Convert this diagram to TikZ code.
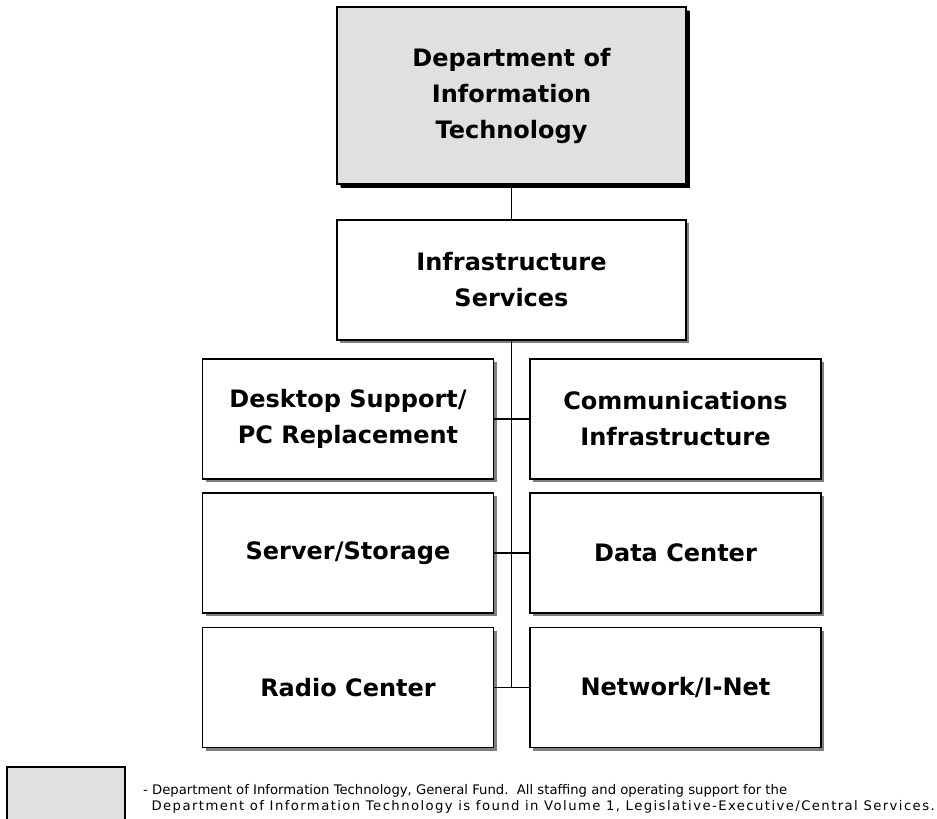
\documentclass[tikz,border=0pt]{standalone}
\usepackage{fontspec}
\setmainfont{DejaVu Sans}
\usetikzlibrary{shadows}

\begin{document}
\begin{tikzpicture}[x=1pt, y=-1pt,
	orgbox/.style={draw, line width=1.6pt, fill=white, align=center,
		font=\fontsize{24}{36}\bfseries, inner sep=0pt,
		minimum width=291pt, minimum height=120pt,
		drop shadow={shadow xshift=3pt, shadow yshift=-3pt, fill=gray, opacity=1}},
	topbox/.style={orgbox, fill=black!12, minimum width=349pt,
		drop shadow={shadow xshift=3.5pt, shadow yshift=-4pt, fill=black, opacity=1}}]
	\useasboundingbox (0, 0) rectangle (937, 819);
	\node[topbox, minimum height=177pt] (dit) at (511.5, 95.5) {Department of\\Information\\Technology};
	\node[orgbox, minimum width=349pt] (infra) at (511.5, 280) {Infrastructure\\Services};
	\node[orgbox] (desktop) at (348, 419) {Desktop Support/\\PC Replacement};
	\node[orgbox] (comm) at (675.5, 419) {Communications\\Infrastructure};
	\node[orgbox] (server) at (348, 553) {Server/Storage};
	\node[orgbox] (datacenter) at (675.5, 553) {Data Center};
	\node[orgbox] (radio) at (348, 687.5) {Radio Center};
	\node[orgbox] (network) at (675.5, 687.5) {Network/I-Net};
	% connectors
	\draw[line width=1.6pt] (dit.south) -- (infra.north);
	\draw[line width=1.6pt] (infra.south) -- (infra.south |- network.west);
	\draw[line width=1.6pt] (desktop.east) -- (comm.west);
	\draw[line width=1.6pt] (server.east) -- (datacenter.west);
	\draw[line width=1.6pt] (radio.east) -- (network.west);
	% legend
	\draw[line width=1.3pt, fill=black!12] (7, 830) -- (7, 767) -- (125, 767) -- (125, 830);
	\node[anchor=north west, align=left, inner sep=0pt, font=\fontsize{13.2}{16}\selectfont] (legend) at (143, 784)
		{- Department of Information Technology, General Fund.\ \ All staffing and operating support for the\\
		\ \ {\addfontfeatures{LetterSpace=10.8}Department of Information Technology is found in Volume 1, Legislative-Executive/Central Services.}};
\end{tikzpicture}
\end{document}
